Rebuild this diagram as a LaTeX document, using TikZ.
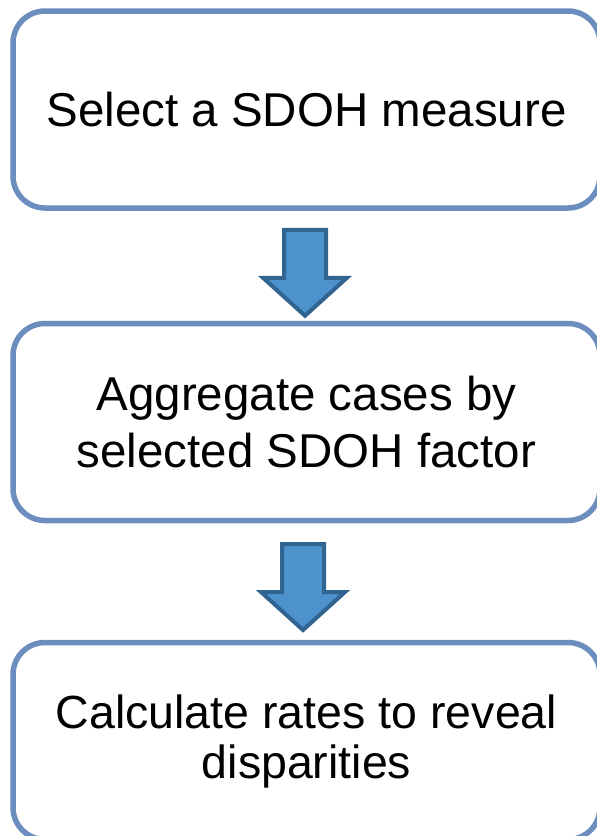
\documentclass[tikz,border=0pt]{standalone}
\usepackage{fontspec}
\setmainfont{Liberation Sans}
\usetikzlibrary{calc}

\definecolor{boxline}{RGB}{108,142,191}
\definecolor{arrowfill}{RGB}{77,146,205}
\definecolor{arrowline}{RGB}{49,100,145}

\tikzset{
  stepbox/.style={draw=boxline, line width=5.5pt, rounded corners=32pt, fill=white,
    minimum width=587pt, minimum height=197pt, inner sep=0pt, align=center,
    font=\fontsize{47.5}{57}\selectfont},
  blockarrow/.style={draw=arrowline, line width=4pt, fill=arrowfill}
}

% fat down arrow centred on a coordinate
\newcommand{\fatarrow}[1]{%
  \draw[blockarrow] (#1) ++(-21,43) -- ++(42,0) -- ++(0,-48) -- ++(21,0)
    -- ++(-42,-38) -- ++(-42,38) -- ++(21,0) -- cycle;}

\begin{document}
\begin{tikzpicture}[x=1pt,y=1pt]
  \useasboundingbox (0,0) rectangle (597,-836);

  \node[stepbox] (s1) at (306.5,-109.5) {Select a SDOH measure};
  \node[stepbox] (s2) at (306.5,-422) {Aggregate cases by\\selected SDOH factor};
  \node[stepbox, font=\fontsize{46.5}{50}\selectfont] (s3) at (306.5,-741)
    {Calculate rates to reveal\\disparities};

  \coordinate (a1) at ($(s1.south)!0.5!(s2.north)+(-1.5,-7)$);
  \coordinate (a2) at ($(s2.south)!0.5!(s3.north)+(-3.5,-5.5)$);
  \fatarrow{a1}
  \fatarrow{a2}
\end{tikzpicture}
\end{document}
